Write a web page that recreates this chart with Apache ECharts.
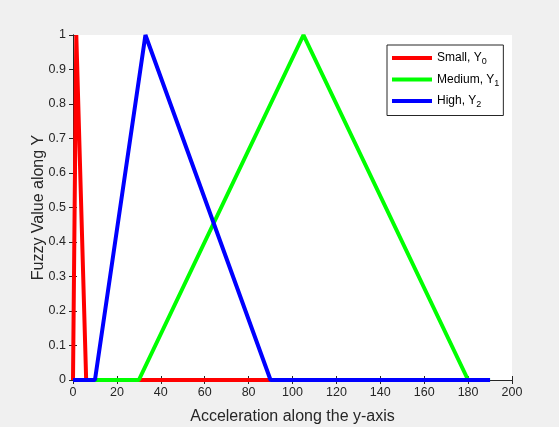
<!DOCTYPE html>
<html>
<head>
<meta charset="utf-8">
<script src="https://cdn.jsdelivr.net/npm/echarts@6/dist/echarts.min.js"></script>
<style>
  html, body { margin: 0; padding: 0; background: #f0f0f0; }
  #chart { width: 559px; height: 427px; }
</style>
</head>
<body>
<div id="chart"></div>
<script>
// membership functions, [x, y] breakpoints
const smallPts = [[0, 0], [1.5, 1], [6, 0], [90, 0]];
const mediumPts = [[10, 0], [30, 0], [105, 1], [180, 0], [190, 0]];
const highPts = [[0, 0], [10, 0], [33, 1], [90, 0], [190, 0]];
const xTicks = [0, 20, 40, 60, 80, 100, 120, 140, 160, 180, 200];
const yTicks = [0, 0.1, 0.2, 0.3, 0.4, 0.5, 0.6, 0.7, 0.8, 0.9, 1];

const axisColor = "#262626";
const font = "Liberation Sans, Arial, sans-serif";

const chart = echarts.init(document.getElementById("chart"));

function lineSeries(name, pts, color) {
  return {
    name: name,
    type: "line",
    data: pts,
    symbol: "none",
    lineStyle: { color: color, width: 4 },
    itemStyle: { color: color },
    animation: false
  };
}

const option = {
  backgroundColor: "#f0f0f0",
  grid: {
    left: 73,
    right: 47,
    top: 35,
    bottom: 47,
    outerBoundsMode: "none",
    show: true,
    backgroundColor: "#fff",
    borderWidth: 0
  },
  legend: {
    left: 387,
    top: 45,
    orient: "vertical",
    backgroundColor: "#fff",
    borderColor: axisColor,
    borderWidth: 1,
    padding: [7, 4, 6, 5],
    itemGap: 7,
    itemWidth: 40,
    itemHeight: 4,
    icon: "rect",
    data: ["Small", "Medium", "High"],
    formatter: function(name) {
      const idx = { Small: 0, Medium: 1, High: 2 }[name];
      return "{t|" + name + ", Y}{s|" + idx + "}";
    },
    textStyle: {
      fontFamily: font,
      color: "#000",
      rich: {
        t: { fontSize: 12, fontFamily: font, color: "#000" },
        s: { fontSize: 9, fontFamily: font, color: "#000", padding: [8, 0, 0, 0] }
      }
    }
  },
  xAxis: [
    {
      type: "value",
      min: 0,
      max: 200,
      interval: 20,
      name: "Acceleration along the y-axis",
      nameLocation: "middle",
      nameGap: 29,
      nameMoveOverlap: false,
      nameTextStyle: { fontSize: 16, fontFamily: font, color: axisColor },
      axisLine: { lineStyle: { color: axisColor } },
      axisTick: { inside: true, length: 4, lineStyle: { color: axisColor } },
      axisLabel: {
        fontSize: 12.5,
        fontFamily: font,
        color: axisColor,
        margin: 6,
        formatter: function(v) { return xTicks.indexOf(v) >= 0 ? String(v) : ""; }
      },
      splitLine: { show: false }
    },
    {
      type: "value",
      position: "top",
      min: 0,
      max: 200,
      interval: 20,
      axisLine: { show: true, lineStyle: { color: axisColor } },
      axisTick: { inside: true, length: 4, lineStyle: { color: axisColor } },
      axisLabel: { show: false },
      splitLine: { show: false }
    }
  ],
  yAxis: [
    {
      type: "value",
      min: 0,
      max: 1,
      interval: 0.1,
      name: "Fuzzy Value along Y",
      nameLocation: "middle",
      nameGap: 26,
      nameMoveOverlap: false,
      nameTextStyle: { fontSize: 16, fontFamily: font, color: axisColor },
      axisLine: { show: true, lineStyle: { color: axisColor } },
      axisTick: { show: true, inside: true, length: 4, lineStyle: { color: axisColor } },
      axisLabel: {
        fontSize: 12.5,
        fontFamily: font,
        color: axisColor,
        margin: 7,
        formatter: function(v) {
          const r = Math.round(v * 10) / 10;
          return yTicks.indexOf(r) >= 0 ? String(r) : "";
        }
      },
      splitLine: { show: false }
    },
    {
      type: "value",
      position: "right",
      min: 0,
      max: 1,
      interval: 0.1,
      axisLine: { show: true, lineStyle: { color: axisColor } },
      axisTick: { show: true, inside: true, length: 4, lineStyle: { color: axisColor } },
      axisLabel: { show: false },
      splitLine: { show: false }
    }
  ],
  series: [
    lineSeries("Small", smallPts, "#ff0000"),
    lineSeries("Medium", mediumPts, "#00ff00"),
    lineSeries("High", highPts, "#0000ff")
  ]
};

chart.setOption(option);
</script>
</body>
</html>
